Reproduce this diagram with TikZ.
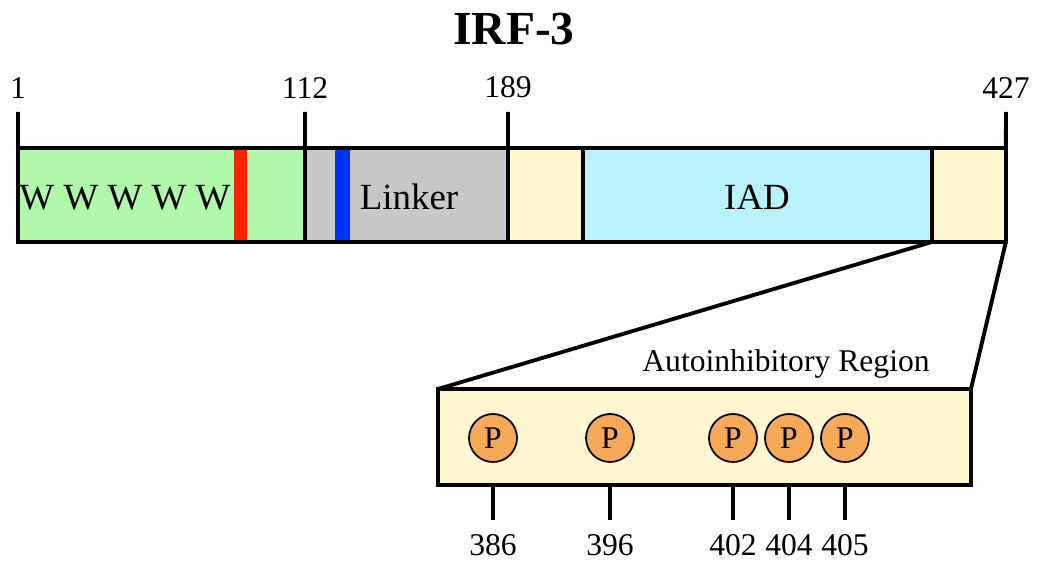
\documentclass[tikz,border=0pt]{standalone}
\usepackage{fontspec}
\setmainfont{Liberation Serif}
\usetikzlibrary{positioning}
\definecolor{dbdgreen}{RGB}{176, 249, 171}
\definecolor{linkergray}{RGB}{200, 200, 200}
\definecolor{tailcream}{RGB}{255, 247, 208}
\definecolor{iadcyan}{RGB}{184, 243, 252}
\definecolor{phosorange}{RGB}{247, 169, 90}
\definecolor{motifred}{RGB}{255, 34, 0}
\definecolor{motifblue}{RGB}{0, 51, 255}

\begin{document}
\begin{tikzpicture}[x=0.02cm, y=-0.02cm, line width=2.2pt,
  segbox/.style={draw, minimum height=1.88cm, inner sep=0pt, outer sep=0pt},
  stripe/.style={minimum height=1.8cm, inner sep=0pt, outer sep=0pt},
  domtext/.style={font=\fontsize{21}{24}\selectfont, inner sep=0pt},
  numlab/.style={font=\fontsize{18}{21}\selectfont, inner sep=0pt},
  phos/.style={draw, circle, line width=1pt, fill=phosorange, minimum size=0.96cm, inner sep=0pt, font=\fontsize{18}{21}\selectfont}]
\useasboundingbox (0,0) rectangle (1037,563);

% Title
\node[font=\bfseries\fontsize{27}{30}\selectfont, anchor=base] (title) at (514,45) {IRF-3};

% Domains of the protein
\node[segbox, fill=dbdgreen, minimum width=5.74cm] (dbd) at (161.5,195) {};
\node[segbox, fill=linkergray, minimum width=4.06cm, right=0pt of dbd] (linker) {};
\node[segbox, fill=tailcream, minimum width=1.5cm, right=0pt of linker] (spacer) {};
\node[segbox, fill=iadcyan, minimum width=6.98cm, right=0pt of spacer] (iad) {};
\node[segbox, fill=tailcream, minimum width=1.48cm, right=0pt of iad] (ctail) {};

% Motif stripes
\node[stripe, fill=motifred, minimum width=0.26cm] (redmotif) at (240,195) {};
\node[stripe, fill=motifblue, minimum width=0.3cm] (bluemotif) at (342,195) {};

% Domain labels
\node[domtext, anchor=base] (wlab) at (125,210) {W W W W W};
\node[domtext, anchor=base] (linkerlab) at (409,210) {Linker};
\node[domtext, anchor=base] (iadlab) at (757,210) {IAD};

% Residue ticks
\coordinate (tick1) at (18,112);
\coordinate (tick112) at (305,112);
\coordinate (tick189) at (508,112);
\coordinate (tick427) at (1006,112);
\draw (dbd.north west) -- (tick1);
\draw (linker.north west) -- (tick112);
\draw (spacer.north west) -- (tick189);
\draw (ctail.north east) -- (tick427);
\node[numlab, above=0.24cm of tick1] (lab1) {1};
\node[numlab, above=0.24cm of tick112] (lab112) {112};
\node[numlab, above=0.24cm of tick189] (lab189) {189};
\node[numlab, above=0.24cm of tick427] (lab427) {427};

% Autoinhibitory region
\node[segbox, fill=tailcream, minimum width=10.66cm, minimum height=1.92cm] (autoreg) at (704.5,437) {};
\node[numlab, anchor=base] (autolab) at (786,372) {Autoinhibitory Region};
\draw (iad.south east) -- (autoreg.north west);
\draw (ctail.south east) -- (autoreg.north east);

% Phosphorylation sites
\node[phos] (p386) at (493,438) {P};
\node[phos] (p396) at (610,438) {P};
\node[phos] (p402) at (733,438) {P};
\node[phos] (p404) at (789,438) {P};
\node[phos] (p405) at (845,438) {P};
\coordinate (s386) at (493,520);
\coordinate (s396) at (610,520);
\coordinate (s402) at (733,520);
\coordinate (s404) at (789,520);
\coordinate (s405) at (845,520);
\draw (autoreg.south -| p386) -- (s386);
\draw (autoreg.south -| p396) -- (s396);
\draw (autoreg.south -| p402) -- (s402);
\draw (autoreg.south -| p404) -- (s404);
\draw (autoreg.south -| p405) -- (s405);
\node[numlab, below=0.26cm of s386] (lab386) {386};
\node[numlab, below=0.26cm of s396] (lab396) {396};
\node[numlab, below=0.26cm of s402] (lab402) {402};
\node[numlab, below=0.26cm of s404] (lab404) {404};
\node[numlab, below=0.26cm of s405] (lab405) {405};
\end{tikzpicture}
\end{document}
